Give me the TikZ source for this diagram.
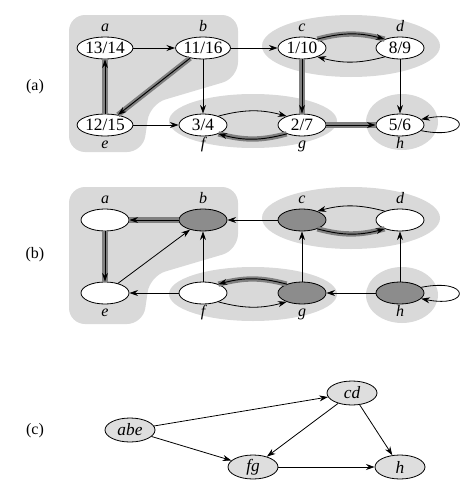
\documentclass[tikz,border=0pt]{standalone}
\usepackage{fontspec}
\setmainfont{Liberation Serif}
\usepackage{tikz}
\usetikzlibrary{shapes.geometric,arrows.meta}
\definecolor{c_region}{rgb}{0.85, 0.85, 0.85}
\definecolor{c_dark}{rgb}{0.55, 0.55, 0.55}
\definecolor{c_band}{rgb}{0.5, 0.5, 0.5}
\definecolor{c_comp}{rgb}{0.87, 0.87, 0.87}
\tikzset{c-ellipse/.style={ellipse, minimum width=36pt, minimum height=16.5pt, inner sep=0pt, draw=black, fill=white, line width=0.6pt, font=\fontsize{13}{15}\selectfont, label distance=2pt},
c-dark/.style={c-ellipse, fill=c_dark},
c-comp/.style={c-ellipse, minimum width=37.5pt, minimum height=18pt, fill=c_comp},
lab/.style={font=\fontsize{12}{14}\selectfont\itshape, text height=8pt, text depth=2.5pt, inner sep=1pt},
region/.style={fill=c_region, draw=none},
arrow/.style={line width=0.6pt,-{Stealth[length=6.5pt,width=4.5pt]}},
tree/.style={arrow, line width=0.7pt, preaction={draw=c_band, line width=4pt, -}}}

\begin{document}
\begin{tikzpicture}[x=0.75pt, y=0.75pt]
\useasboundingbox (0,0) rectangle (468,-496);

\fill[region, rounded corners=12pt] (69,-15) -- (238,-15) -- (238,-78) -- (150,-104) -- (143,-152) -- (69,-152) -- cycle;
\fill[region] (351,-46) ellipse (89 and 31);
\fill[region] (253,-121) ellipse (84 and 27);
\fill[region] (402,-122) ellipse (36 and 28);

\node (pa) at (35,-87) {\fontsize{12}{14}\selectfont(a)};
\node (va) [c-ellipse, label={[lab]above:a}] at (105,-48) {13/14};
\node (vb) [c-ellipse, label={[lab]above:b}] at (203,-48) {11/16};
\node (vc) [c-ellipse, label={[lab]above:c}] at (302,-48) {1/10};
\node (vd) [c-ellipse, label={[lab]above:d}] at (400,-48) {8/9};
\node (ve) [c-ellipse, label={[lab]below:e}] at (105,-125) {12/15};
\node (vf) [c-ellipse, label={[lab]below:f}] at (203,-125) {3/4};
\node (vg) [c-ellipse, label={[lab]below:g}] at (302,-125) {2/7};
\node (vh) [c-ellipse, label={[lab]below:h}] at (400,-125) {5/6};
\draw [arrow] (va) -- (vb);
\draw [arrow] (vb) -- (vc);
\draw [arrow] (vb) -- (vf);
\draw [arrow] (ve) -- (vf);
\draw [arrow] (vd) -- (vh);
\draw [tree] (ve) -- (va);
\draw [tree] (vb) -- (ve);
\draw [tree] (vc) -- (vg);
\draw [tree] (vg) -- (vh);
\draw [tree] (vc.30) to[bend left=15] (vd.150);
\draw [arrow] (vd.210) to[bend left=15] (vc.330);
\draw [arrow] (vf.30) to[bend left=15] (vg.150);
\draw [tree] (vg.210) to[bend left=15] (vf.330);
\draw [arrow] (vh.345) .. controls +(50,-10) and +(50,10) .. (vh.15);

\fill[region, rounded corners=12pt] (69,-187) -- (238,-187) -- (238,-250) -- (150,-276) -- (143,-324) -- (69,-324) -- cycle;
\fill[region] (351,-218) ellipse (89 and 31);
\fill[region] (253,-294) ellipse (84 and 27);
\fill[region] (402,-295) ellipse (36 and 28);

\node (pb) at (35,-255) {\fontsize{12}{14}\selectfont(b)};
\node (ta) [c-ellipse, label={[lab]above:a}] at (105,-220) {};
\node (tb) [c-dark, label={[lab]above:b}] at (203,-220) {};
\node (tc) [c-dark, label={[lab]above:c}] at (302,-220) {};
\node (td) [c-ellipse, label={[lab]above:d}] at (400,-220) {};
\node (te) [c-ellipse, label={[lab]below:e}] at (105,-293) {};
\node (tf) [c-ellipse, label={[lab]below:f}] at (203,-293) {};
\node (tg) [c-dark, label={[lab]below:g}] at (302,-293) {};
\node (th) [c-dark, label={[lab]below:h}] at (400,-293) {};
\draw [tree] (tb) -- (ta);
\draw [tree] (ta) -- (te);
\draw [arrow] (te) -- (tb);
\draw [arrow] (tc) -- (tb);
\draw [arrow] (tf) -- (tb);
\draw [arrow] (tf) -- (te);
\draw [arrow] (tg) -- (tc);
\draw [arrow] (th) -- (tg);
\draw [arrow] (th) -- (td);
\draw [arrow] (td.150) to[bend right=15] (tc.30);
\draw [tree] (tc.330) to[bend right=15] (td.210);
\draw [tree] (tg.150) to[bend right=15] (tf.30);
\draw [arrow] (tf.330) to[bend right=15] (tg.210);
\draw [arrow] (th.15) .. controls +(50,10) and +(50,-10) .. (th.345);

\node (pc) at (35,-431) {\fontsize{12}{14}\selectfont(c)};
\node (sabe) [c-comp] at (130,-430) {\itshape abe};
\node (scd) [c-comp] at (352,-393) {\itshape cd};
\node (sfg) [c-comp] at (253,-467) {\itshape fg};
\node (sh) [c-comp] at (400,-467) {\itshape h};
\draw [arrow] (sabe) -- (scd);
\draw [arrow] (sabe) -- (sfg);
\draw [arrow] (scd) -- (sfg);
\draw [arrow] (scd) -- (sh);
\draw [arrow] (sfg) -- (sh);
\end{tikzpicture}
\end{document}
